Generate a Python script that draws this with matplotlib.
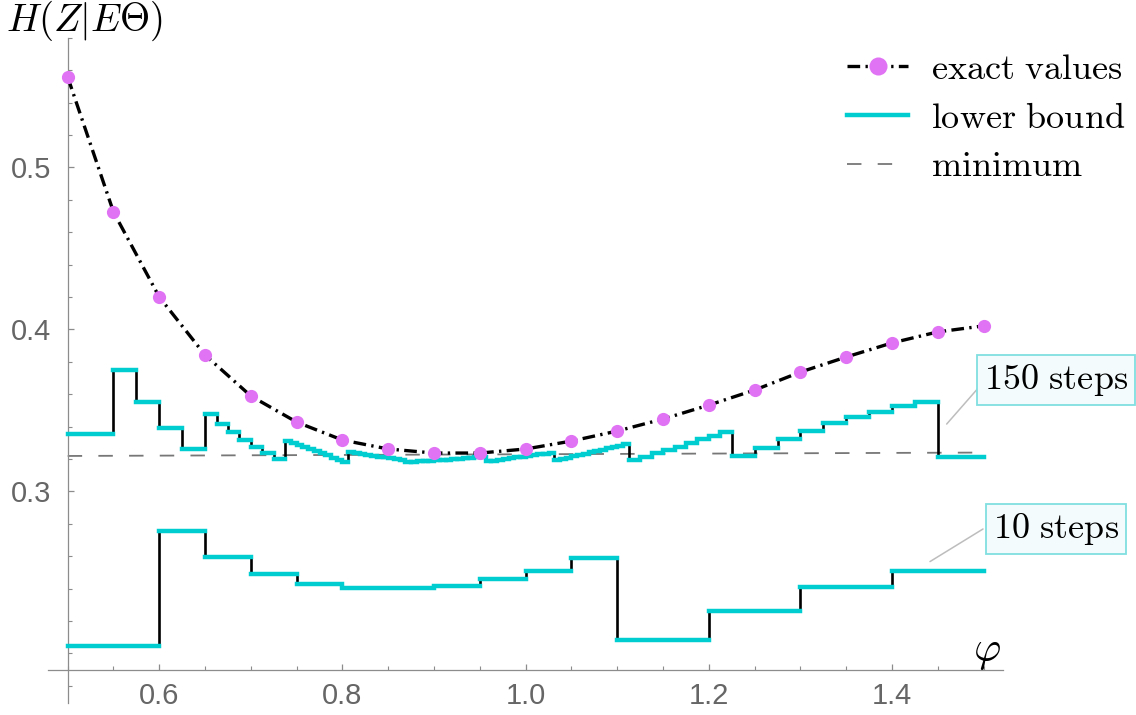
import numpy as np
import matplotlib.pyplot as plt
from matplotlib.lines import Line2D
from matplotlib.ticker import FixedLocator, MultipleLocator, FormatStrFormatter

plt.rcParams['mathtext.fontset'] = 'cm'
plt.rcParams['font.family'] = ['Liberation Sans', 'DejaVu Sans']

# exact values of H(Z|E Theta)
phi = [0.5, 0.55, 0.6, 0.65, 0.7, 0.75, 0.8, 0.85, 0.9, 0.95, 1.0,
       1.05, 1.1, 1.15, 1.2, 1.25, 1.3, 1.35, 1.4, 1.45, 1.5]
exact = [0.5558, 0.4725, 0.4200, 0.3842, 0.3589, 0.3428, 0.3317, 0.3262, 0.3237, 0.3237, 0.3262,
         0.3311, 0.3373, 0.3447, 0.3533, 0.3626, 0.3737, 0.3830, 0.3917, 0.3985, 0.4022]

# minimum (dashed)
min_phi = [0.5, 1.5]
min_val = [0.3219, 0.3240]

# lower bound, 150 steps: segment bounds, number of steps in each, step values
bounds_150 = [0.5, 0.55, 0.65, 0.7375, 0.80625, 0.86875, 0.95625, 1.03125, 1.1125, 1.225, 1.45, 1.5]
nsteps_150 = [1, 4, 7, 11, 10, 14, 12, 13, 9, 9, 1]
vals_150 = [0.3356,
            0.3749, 0.3554, 0.3393, 0.3262,
            0.3475, 0.3416, 0.3369, 0.3317, 0.3276, 0.3235, 0.3202,
            0.3311, 0.3299, 0.3286, 0.3273, 0.3260, 0.3248, 0.3235, 0.3222, 0.3209, 0.3196, 0.3184,
            0.3244, 0.3238, 0.3232, 0.3227, 0.3221, 0.3215, 0.3210, 0.3205, 0.3199, 0.3194,
            0.3182, 0.3183, 0.3185, 0.3187, 0.3189, 0.3191, 0.3193, 0.3195, 0.3198, 0.3201, 0.3204,
            0.3207, 0.3210, 0.3213,
            0.3185, 0.3190, 0.3195, 0.3200, 0.3205, 0.3210, 0.3215, 0.3220, 0.3225, 0.3229, 0.3233, 0.3237,
            0.3192, 0.3200, 0.3208, 0.3216, 0.3225, 0.3233, 0.3241, 0.3249, 0.3258, 0.3266, 0.3275,
            0.3283, 0.3292,
            0.3194, 0.3214, 0.3235, 0.3256, 0.3276, 0.3301, 0.3322, 0.3344, 0.3369,
            0.3220, 0.3270, 0.3323, 0.3373, 0.3420, 0.3461, 0.3492, 0.3527, 0.3554,
            0.3210]

# lower bound, 10 steps
edges_10 = [0.5, 0.6, 0.65, 0.7, 0.75, 0.8, 0.9, 0.95, 1.0, 1.05, 1.1, 1.2, 1.3, 1.4, 1.5]
vals_10 = [0.2046, 0.2754, 0.2593, 0.2490, 0.2430, 0.2404, 0.2416, 0.2459, 0.2509, 0.2589,
           0.2081, 0.2265, 0.2413, 0.2510]

CYAN = '#00cdd0'
MAG = '#e072f4'
GREY = '#8c8c8c'
DASHDOT = (0, (3.8, 1.6, 0.7, 1.6))


def step_edges(bounds, counts):
    parts = [np.linspace(a, b, n + 1)[:-1] for a, b, n in zip(bounds[:-1], bounds[1:], counts)]
    return np.append(np.concatenate(parts), bounds[-1])


def draw_steps(ax, edges, vals):
    edges = np.asarray(edges)
    vals = np.asarray(vals)
    ax.vlines(edges[1:-1], vals[:-1], vals[1:], color='black', lw=1.9, zorder=2)
    ax.hlines(vals, edges[:-1], edges[1:], color=CYAN, lw=3.2, zorder=3, capstyle='projecting')


fig = plt.figure(figsize=(11.36, 7.15), dpi=100)
ax = fig.add_axes([48 / 1136, 1 - 703 / 715, 955 / 1136, 665.3 / 715])
ax.set_xlim(0.4785, 1.5211)
ax.set_ylim(0.1694, 0.5801)

draw_steps(ax, step_edges(bounds_150, nsteps_150), vals_150)
draw_steps(ax, edges_10, vals_10)

ax.plot(min_phi, min_val, color='#777777', lw=1.3, ls=(0, (8, 9)), zorder=1)
ax.plot(phi, exact, color='black', lw=2.4, ls=DASHDOT, zorder=4)
ax.plot(phi, exact, 'o', color=MAG, ms=9.5, mec='none', zorder=5)

# axes in Mathematica style
for s in ['top', 'right']:
    ax.spines[s].set_visible(False)
ax.spines['left'].set_position(('data', 0.5))
ax.spines['bottom'].set_position(('data', 0.19))
for s in ['left', 'bottom']:
    ax.spines[s].set_color(GREY)
    ax.spines[s].set_linewidth(0.9)

ax.xaxis.set_major_locator(FixedLocator([0.6, 0.8, 1.0, 1.2, 1.4]))
ax.xaxis.set_minor_locator(MultipleLocator(0.05))
ax.yaxis.set_major_locator(FixedLocator([0.3, 0.4, 0.5]))
ax.yaxis.set_minor_locator(MultipleLocator(0.02))
ax.xaxis.set_major_formatter(FormatStrFormatter('%.1f'))
ax.yaxis.set_major_formatter(FormatStrFormatter('%.1f'))
ax.tick_params(which='both', direction='in', color=GREY, labelcolor='#666666', labelsize=21)
ax.tick_params(which='major', length=4.5, width=0.9)
ax.tick_params(which='minor', length=3, width=0.8)
ax.tick_params(axis='x', pad=9)
ax.tick_params(axis='y', pad=12)

fig.text(6 / 1136, 1 - 21 / 715, r'$H(Z|E\Theta)$', fontsize=28, ha='left', va='center')
fig.text(987 / 1136, 1 - 652 / 715, r'$\varphi$', fontsize=30, ha='center', va='center')

handles = [
    Line2D([], [], color='black', lw=2.4, ls=DASHDOT,
           marker='o', ms=13, mfc=MAG, mec='none'),
    Line2D([], [], color=CYAN, lw=3.2),
    Line2D([], [], color='#777777', lw=1.3, ls=(0, (8, 9))),
]
labels = [r'$\mathrm{exact\ values}$', r'$\mathrm{lower\ bound}$', r'$\mathrm{minimum}$']
fig.legend(handles, labels, loc='upper left', bbox_to_anchor=(847 / 1136, 1 - 52 / 715),
           frameon=False, fontsize=26, handlelength=1.7, handletextpad=0.62,
           labelspacing=0.38, borderpad=0, borderaxespad=0)

box = dict(boxstyle='square,pad=0.2', fc='#f4fbfc', ec='#80dfe0', lw=1.3)
fig.text(1056 / 1136, 1 - 380 / 715, r'$\mathrm{150\ steps}$', fontsize=26,
         ha='center', va='center', bbox=box)
fig.text(1056 / 1136, 1 - 529 / 715, r'$\mathrm{10\ steps}$', fontsize=26,
         ha='center', va='center', bbox=box)

line_kw = dict(arrowstyle='-', color='#bdbdbd', lw=1.1, shrinkA=0, shrinkB=0)
ax.annotate('', xy=(1.4596, 0.3416), xytext=(980, 715 - 386), textcoords='figure pixels',
            arrowprops=line_kw)
ax.annotate('', xy=(1.4414, 0.2567), xytext=(983, 715 - 529), textcoords='figure pixels',
            arrowprops=line_kw)

fig.savefig('out.png', dpi=100)
